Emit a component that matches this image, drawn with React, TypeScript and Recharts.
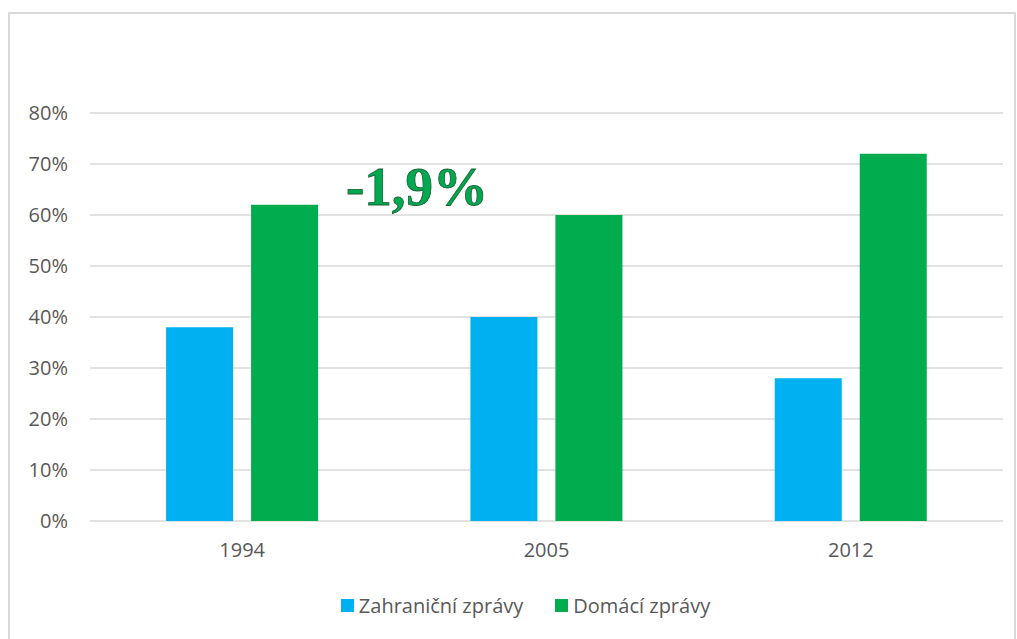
import { BarChart, Bar, XAxis, YAxis, CartesianGrid, Legend } from 'recharts';

const years = ['1994', '2005', '2012'];
const foreignNews = [38, 40, 28];
const domesticNews = [62, 60, 72];
const yTicks = [0, 10, 20, 30, 40, 50, 60, 70, 80];
const seriesOrder = ['foreign', 'domestic'];
const annotation = '-1,9%';

const data = years.map((year, i) => ({
  year,
  foreign: foreignNews[i],
  domestic: domesticNews[i],
}));

const FONT = '"Open Sans", sans-serif';
const TEXT = '#595959';

function LegendBox({ payload }: any) {
  const items = [...(payload || [])].sort(
    (a: any, b: any) => seriesOrder.indexOf(a.dataKey) - seriesOrder.indexOf(b.dataKey)
  );
  return (
    <div style={{ display: 'flex', justifyContent: 'center', fontFamily: FONT, fontSize: 20, color: TEXT }}>
      {items.map((p: any, i: number) => (
        <div key={p.value} style={{ display: 'flex', alignItems: 'center', marginLeft: i ? 32 : 0 }}>
          <span style={{ width: 13, height: 13, background: p.color, display: 'inline-block', marginRight: 5 }} />
          <span>{p.value}</span>
        </div>
      ))}
    </div>
  );
}

export default function App() {
  return (
    <div style={{ position: 'absolute', left: 0, top: 0, width: 1017, height: 639, background: '#fff', overflow: 'hidden' }}>
      <div style={{ position: 'absolute', left: 8, top: 12, width: 1004, height: 700, border: '2px solid #d9d9d9' }} />
      <BarChart width={1017} height={639} data={data}
        margin={{ top: 113, right: 14, bottom: 118 - 30, left: 0 }}
        barCategoryGap="25%" barGap={18}>
        <CartesianGrid vertical={false} stroke="#d9d9d9" strokeWidth={1.5} />
        <XAxis dataKey="year" axisLine={false} tickLine={false} tickSize={0} tickMargin={22} height={30}
          tick={{ fill: TEXT, fontSize: 20, fontFamily: FONT }} />
        <YAxis width={90} domain={[0, 80]} ticks={yTicks} axisLine={false} tickLine={false} tickSize={0} tickMargin={22}
          tickFormatter={(v) => `${v}%`} tick={{ fill: TEXT, fontSize: 20, fontFamily: FONT }} />
        <Legend verticalAlign="middle" content={<LegendBox />} wrapperStyle={{ top: 592, left: 17, width: 1017 }} />
        <Bar dataKey="foreign" name="Zahraniční zprávy" fill="#00b0f0" isAnimationActive={false} />
        <Bar dataKey="domestic" name="Domácí zprávy" fill="#00ac4e" isAnimationActive={false} />
      </BarChart>
      <div style={{
        position: 'absolute', left: 346, top: 157, fontFamily: '"Liberation Serif", serif', fontWeight: 700,
        fontSize: 55, lineHeight: '60px', color: '#00a84f', WebkitTextStroke: '0.8px #1e5e34',
      }}>{annotation}</div>
    </div>
  );
}
